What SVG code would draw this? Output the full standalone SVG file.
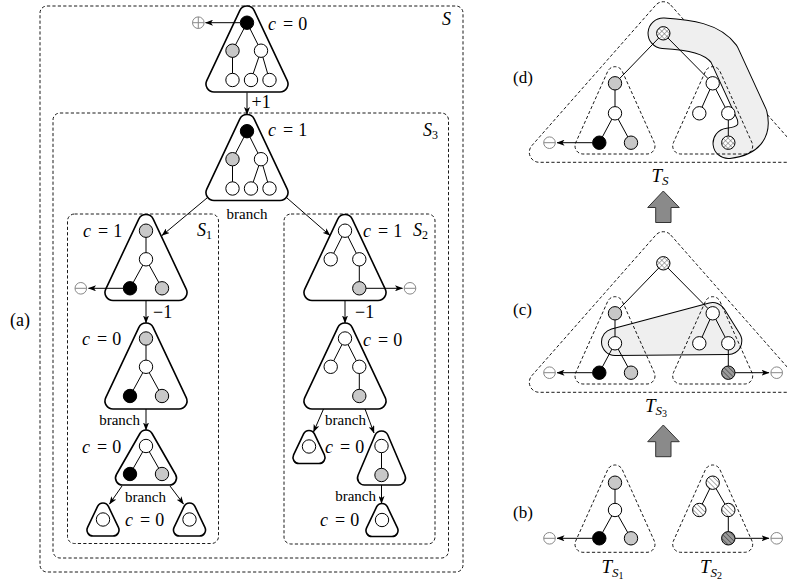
<svg xmlns="http://www.w3.org/2000/svg" width="787" height="579" viewBox="0 0 787 579">
<style>
text{font-family:"Liberation Serif","DejaVu Serif",serif;fill:#000}
.m{font-size:18px}
.i{font-style:italic}
.br{font-size:15px}
.tri{fill:#fff;stroke:#000;stroke-width:1.6}
.dash{fill:none;stroke:#000;stroke-width:0.9;stroke-dasharray:3.2 2.2}
.e{stroke:#000;stroke-width:1;fill:none}
.n{stroke:#000;stroke-width:1}
.w{fill:#fff}.g{fill:#c8c8c8}.b{fill:#000}.x{fill:url(#xh)}.s{fill:url(#st)}.d{fill:url(#sd)}
.arr{stroke:#000;stroke-width:1;fill:none;marker-end:url(#ah)}
.sym{fill:none;stroke:#888;stroke-width:1}
.blk{fill:#8a8a8a;stroke:#333;stroke-width:1}
.bandO{fill:none;stroke:#000;stroke-linecap:round;stroke-linejoin:round}
.bandI{fill:none;stroke:#efefef;stroke-linecap:round;stroke-linejoin:round}
</style>
<defs>
<marker id="ah" viewBox="0 0 8 6" markerWidth="8" markerHeight="6" refX="7.5" refY="3" orient="auto" markerUnits="userSpaceOnUse"><path d="M0,0 L8,3 L0,6 L2,3 Z" fill="#000"/></marker>
<pattern id="xh" width="3.6" height="3.6" patternUnits="userSpaceOnUse" patternTransform="rotate(45)"><rect width="3.6" height="3.6" fill="#fff"/><path d="M0,0H3.6M0,0V3.6" stroke="#444" stroke-width="0.8"/></pattern>
<pattern id="st" width="3.4" height="3.4" patternUnits="userSpaceOnUse" patternTransform="rotate(-45)"><rect width="3.4" height="3.4" fill="#fff"/><path d="M0,0V3.4" stroke="#777" stroke-width="1.2"/></pattern>
<pattern id="sd" width="3.4" height="3.4" patternUnits="userSpaceOnUse" patternTransform="rotate(-45)"><rect width="3.4" height="3.4" fill="#9a9a9a"/><path d="M0,0V3.4" stroke="#333" stroke-width="1.1"/></pattern>
<path id="big" d="M7.24,4.59 L40.24,74.59 A8,8 0 0 1 33,86 L-33,86 A8,8 0 0 1 -40.24,74.59 L-7.24,4.59 A8,8 0 0 1 7.24,4.59 Z"/>
<path id="mid2" d="M6.07,3.52 L29.57,44.52 A7,7 0 0 1 23.5,55 L-23.5,55 A7,7 0 0 1 -29.57,44.52 L-6.07,3.52 A7,7 0 0 1 6.07,3.52 Z"/>
<path id="mid1" d="M6.44,4.26 L23.44,44.26 A7,7 0 0 1 17,54 L-17,54 A7,7 0 0 1 -23.44,44.26 L-6.44,4.26 A7,7 0 0 1 6.44,4.26 Z"/>
<path id="sm" d="M5.42,3.42 L15.42,24.42 A6,6 0 0 1 10,33 L-10,33 A6,6 0 0 1 -15.42,24.42 L-5.42,3.42 A6,6 0 0 1 5.42,3.42 Z"/>
<path id="sub" d="M7.3,4.72 L39.3,76.02 A8,8 0 0 1 32,87.3 L-32,87.3 A8,8 0 0 1 -39.3,76.02 L-7.3,4.72 A8,8 0 0 1 7.3,4.72 Z"/>
<path id="bigd" d="M7.5,3.39 L131.5,143.99 A10,10 0 0 1 124,160.6 L-124,160.6 A10,10 0 0 1 -131.5,143.99 L-7.5,3.39 A10,10 0 0 1 7.5,3.39 Z"/>
<g id="om"><circle r="5.8"/><path d="M-5.8,0H5.8"/></g>
<g id="op"><circle r="5.8"/><path d="M-5.8,0H5.8M0,-5.8V5.8"/></g>
</defs>

<!-- (a) panel boxes -->
<g id="boxS">
<rect class="dash" x="40" y="6" width="423" height="566" rx="7"/>
<text class="m i" x="442" y="25" font-size="19">S</text>
</g>
<g id="boxS3">
<rect class="dash" x="53" y="113" width="395.5" height="445" rx="7"/>
<text class="m" x="423" y="136"><tspan class="i">S</tspan><tspan font-size="12" dy="3">3</tspan></text>
</g>
<g id="boxS1">
<rect class="dash" x="67.5" y="214" width="151" height="329.5" rx="7"/>
<text class="m" x="197" y="236"><tspan class="i">S</tspan><tspan font-size="12" dy="3">1</tspan></text>
</g>
<g id="boxS2">
<rect class="dash" x="284" y="214" width="151" height="330" rx="7"/>
<text class="m" x="413" y="236"><tspan class="i">S</tspan><tspan font-size="12" dy="3">2</tspan></text>
</g>
<text x="10" y="326" font-size="18">(a)</text>

<g id="t0">
<use href="#big" x="247" y="6" class="tri"/>
<path class="e" d="M247,22.7L232.5,50.7M247,22.7L261,50.7M232.5,50.7V80M261,50.7L251,80M261,50.7L269.5,80"/>
<circle class="n b" cx="247" cy="22.7" r="6.7"/>
<circle class="n g" cx="232.5" cy="50.7" r="6.7"/>
<circle class="n w" cx="261" cy="50.7" r="6.7"/>
<circle class="n w" cx="232.5" cy="80" r="6.7"/>
<circle class="n w" cx="251" cy="80" r="6.7"/>
<circle class="n w" cx="269.5" cy="80" r="6.7"/>
<text class="m" x="268" y="30"><tspan class="i">c</tspan><tspan dx="7">=</tspan><tspan dx="5">0</tspan></text>
</g>

<g id="t1">
<use href="#big" x="247" y="114.5" class="tri"/>
<path class="e" d="M247,131.2L232.5,159.2M247,131.2L261,159.2M232.5,159.2V188.5M261,159.2L251,188.5M261,159.2L269.5,188.5"/>
<circle class="n b" cx="247" cy="131.2" r="6.7"/>
<circle class="n g" cx="232.5" cy="159.2" r="6.7"/>
<circle class="n w" cx="261" cy="159.2" r="6.7"/>
<circle class="n w" cx="232.5" cy="188.5" r="6.7"/>
<circle class="n w" cx="251" cy="188.5" r="6.7"/>
<circle class="n w" cx="269.5" cy="188.5" r="6.7"/>
<text class="m" x="268" y="136"><tspan class="i">c</tspan><tspan dx="7">=</tspan><tspan dx="5">1</tspan></text>
</g>

<g id="ta">
<use href="#big" x="146" y="214.5" class="tri"/>
<path class="e" d="M146,230.7V259.3M146,259.3L130,288.3M146,259.3L162,288.3"/>
<circle class="n g" cx="146" cy="230.7" r="6.7"/>
<circle class="n w" cx="146" cy="259.3" r="6.7"/>
<circle class="n b" cx="130" cy="288.3" r="6.7"/>
<circle class="n g" cx="162" cy="288.3" r="6.7"/>
<text class="m" x="83" y="236.5"><tspan class="i">c</tspan><tspan dx="7">=</tspan><tspan dx="5">1</tspan></text>
</g>

<g id="tb">
<use href="#big" x="146" y="323" class="tri"/>
<path class="e" d="M146,338.5V366.8M146,366.8L130,396M146,366.8L162,396"/>
<circle class="n g" cx="146" cy="338.5" r="6.7"/>
<circle class="n w" cx="146" cy="366.8" r="6.7"/>
<circle class="n b" cx="130" cy="396" r="6.7"/>
<circle class="n g" cx="162" cy="396" r="6.7"/>
<text class="m" x="82" y="345"><tspan class="i">c</tspan><tspan dx="7">=</tspan><tspan dx="5">0</tspan></text>
</g>

<g id="tc">
<use href="#mid2" x="146" y="430" class="tri"/>
<path class="e" d="M146,446L130,474M146,446L162,474"/>
<circle class="n w" cx="146" cy="446" r="6.7"/>
<circle class="n b" cx="130" cy="474" r="6.7"/>
<circle class="n g" cx="162" cy="474" r="6.7"/>
<text class="m" x="82" y="452.5"><tspan class="i">c</tspan><tspan dx="7">=</tspan><tspan dx="5">0</tspan></text>
</g>

<g id="s1l">
<use href="#sm" x="103" y="503" class="tri"/>
<circle class="n w" cx="103" cy="519.5" r="6.7"/>
</g>
<g id="s1r">
<use href="#sm" x="189.5" y="503" class="tri"/>
<circle class="n w" cx="189.5" cy="519.5" r="6.7"/>
</g>
<text class="m" x="125" y="526"><tspan class="i">c</tspan><tspan dx="7">=</tspan><tspan dx="5">0</tspan></text>

<g id="td">
<use href="#big" x="345" y="214.5" class="tri"/>
<path class="e" d="M345,230.7L330.7,259.3M345,230.7L359.3,259.3M359.3,259.3V288.3"/>
<circle class="n w" cx="345" cy="230.7" r="6.7"/>
<circle class="n w" cx="330.7" cy="259.3" r="6.7"/>
<circle class="n w" cx="359.3" cy="259.3" r="6.7"/>
<circle class="n g" cx="359.3" cy="288.3" r="6.7"/>
<text class="m" x="363" y="236.5"><tspan class="i">c</tspan><tspan dx="7">=</tspan><tspan dx="5">1</tspan></text>
</g>

<g id="te">
<use href="#big" x="345" y="323" class="tri"/>
<path class="e" d="M345,338.5L330.7,366.8M345,338.5L359.3,366.8M359.3,366.8V396"/>
<circle class="n w" cx="345" cy="338.5" r="6.7"/>
<circle class="n w" cx="330.7" cy="366.8" r="6.7"/>
<circle class="n w" cx="359.3" cy="366.8" r="6.7"/>
<circle class="n g" cx="359.3" cy="396" r="6.7"/>
<text class="m" x="363" y="345.5"><tspan class="i">c</tspan><tspan dx="7">=</tspan><tspan dx="5">0</tspan></text>
</g>

<g id="s2l">
<use href="#sm" x="309" y="430.5" class="tri"/>
<circle class="n w" cx="309" cy="446.5" r="6.7"/>
</g>
<g id="tf">
<use href="#mid1" x="381.5" y="431" class="tri"/>
<path class="e" d="M381.5,446V475"/>
<circle class="n w" cx="381.5" cy="446" r="6.7"/>
<circle class="n g" cx="381.5" cy="475" r="6.7"/>
</g>
<text class="m" x="325" y="453"><tspan class="i">c</tspan><tspan dx="7">=</tspan><tspan dx="5">0</tspan></text>
<g id="s2b">
<use href="#sm" x="382" y="503.5" class="tri"/>
<circle class="n w" cx="382" cy="520" r="6.7"/>
</g>
<text class="m" x="320" y="526"><tspan class="i">c</tspan><tspan dx="7">=</tspan><tspan dx="5">0</tspan></text>

<!-- (d) -->
<g id="panel-d">
<use href="#bigd" x="663.3" y="1.7" class="dash"/>
<path class="bandO" stroke-width="31.5" d="M663.3,33.3 C690,35 712,38 724,54 L752,115 Q758,140 728.3,143.3"/>
<path class="bandI" stroke-width="29.5" d="M663.3,33.3 C690,35 712,38 724,54 L752,115 Q758,140 728.3,143.3"/>
<use href="#sub" x="615" y="66.7" class="dash"/>
<use href="#sub" x="712.7" y="66.7" class="dash"/>
<path class="e" d="M663.3,33.3L615,83.3M663.3,33.3L712.7,83.3M615,83.3V113.3M615,113.3L599.3,142.7M615,113.3L631,142.7M712.7,83.3L699.3,113.3M712.7,83.3L728.3,113.3M728.3,113.3V142.7"/>
<circle class="n x" cx="663.3" cy="33.3" r="6.7"/>
<circle class="n g" cx="615" cy="83.3" r="6.7"/>
<circle class="n w" cx="615" cy="113.3" r="6.7"/>
<circle class="n b" cx="599.3" cy="142.7" r="6.7"/>
<circle class="n g" cx="631" cy="142.7" r="6.7"/>
<circle class="n w" cx="712.7" cy="83.3" r="6.7"/>
<circle class="n w" cx="699.3" cy="113.3" r="6.7"/>
<circle class="n w" cx="728.3" cy="113.3" r="6.7"/>
<circle class="n x" cx="728.3" cy="142.7" r="6.7"/>
<text x="513" y="83" font-size="17">(d)</text>
<text x="651.5" y="181.5" font-size="19"><tspan class="i">T</tspan><tspan class="i" font-size="13" dy="3">S</tspan></text>
</g>

<!-- (c) -->
<g id="panel-c">
<use href="#bigd" x="663.3" y="231.7" class="dash"/>
<path d="M615,342L712.7,316L728.3,341Z" fill="#000" stroke="#000" stroke-width="28" stroke-linejoin="round"/>
<path d="M615,342L712.7,316L728.3,341Z" fill="#efefef" stroke="#efefef" stroke-width="26" stroke-linejoin="round"/>
<use href="#sub" x="615" y="296.7" class="dash"/>
<use href="#sub" x="712.7" y="296.7" class="dash"/>
<path class="e" d="M663.3,263.3L615,313.3M663.3,263.3L712.7,313.3M615,313.3V343.3M615,343.3L599.3,372.7M615,343.3L631,372.7M712.7,313.3L699.3,343.3M712.7,313.3L728.3,343.3M728.3,343.3V372.7"/>
<circle class="n x" cx="663.3" cy="263.3" r="6.7"/>
<circle class="n g" cx="615" cy="313.3" r="6.7"/>
<circle class="n w" cx="615" cy="343.3" r="6.7"/>
<circle class="n b" cx="599.3" cy="372.7" r="6.7"/>
<circle class="n g" cx="631" cy="372.7" r="6.7"/>
<circle class="n w" cx="712.7" cy="313.3" r="6.7"/>
<circle class="n w" cx="699.3" cy="343.3" r="6.7"/>
<circle class="n w" cx="728.3" cy="343.3" r="6.7"/>
<circle class="n d" cx="728.3" cy="372.7" r="6.7"/>
<text x="513" y="315" font-size="17">(c)</text>
<text x="645" y="412" font-size="19"><tspan class="i">T</tspan><tspan class="i" font-size="13" dy="3">S</tspan><tspan font-size="10" dy="2">3</tspan></text>
</g>

<!-- (b) -->
<g id="panel-b">
<use href="#sub" x="615" y="465" class="dash"/>
<use href="#sub" x="712.7" y="465" class="dash"/>
<path class="e" d="M615,482.7V510M615,510L599.3,538.3M615,510L631,538.3M712.7,482.7L699.3,510M712.7,482.7L728.3,510M728.3,510V538.3"/>
<circle class="n g" cx="615" cy="482.7" r="6.7"/>
<circle class="n w" cx="615" cy="510" r="6.7"/>
<circle class="n b" cx="599.3" cy="538.3" r="6.7"/>
<circle class="n g" cx="631" cy="538.3" r="6.7"/>
<circle class="n s" cx="712.7" cy="482.7" r="6.7"/>
<circle class="n s" cx="699.3" cy="510" r="6.7"/>
<circle class="n s" cx="728.3" cy="510" r="6.7"/>
<circle class="n d" cx="728.3" cy="538.3" r="6.7"/>
<text x="513" y="518" font-size="17">(b)</text>
<text x="601.5" y="573" font-size="19"><tspan class="i">T</tspan><tspan class="i" font-size="13" dy="3.5">S</tspan><tspan font-size="10" dy="2">1</tspan></text>
<text x="700" y="573" font-size="19"><tspan class="i">T</tspan><tspan class="i" font-size="13" dy="3.5">S</tspan><tspan font-size="10" dy="2">2</tspan></text>
</g>

<g id="bigarrows">
<polygon class="blk" points="663.3,191 679.3,207.5 671,207.5 671,222.5 655.7,222.5 655.7,207.5 647.7,207.5"/>
<polygon class="blk" points="663.3,425 679.3,441.7 671,441.7 671,456.7 655.7,456.7 655.7,441.7 647.7,441.7"/>
</g>

<g id="connectors">
<line class="arr" x1="240" y1="22.7" x2="205.5" y2="22.7"/>
<use href="#op" x="198.3" y="22.7" class="sym"/>
<line class="arr" x1="247" y1="92.5" x2="247" y2="114.5"/>
<text class="m" x="251.5" y="108">+1</text>
<line class="arr" x1="207" y1="198" x2="162" y2="235.5"/>
<line class="arr" x1="287" y1="198" x2="330" y2="235.5"/>
<text class="br" x="247" y="219" text-anchor="middle">branch</text>
<line class="arr" x1="123.3" y1="288.3" x2="88.5" y2="288.3"/>
<use href="#om" x="80.8" y="288.3" class="sym"/>
<line class="arr" x1="146" y1="301" x2="146" y2="323"/>
<text class="m" x="153" y="318">−1</text>
<line class="arr" x1="146" y1="409" x2="146" y2="430"/>
<text class="br" x="140" y="425" text-anchor="end">branch</text>
<line class="arr" x1="122" y1="486" x2="109.5" y2="504"/>
<line class="arr" x1="170" y1="486" x2="183.5" y2="504"/>
<text class="br" x="145.5" y="502" text-anchor="middle">branch</text>
<line class="arr" x1="366" y1="288.3" x2="402.5" y2="288.3"/>
<use href="#om" x="410" y="288.3" class="sym"/>
<line class="arr" x1="345" y1="301" x2="345" y2="323"/>
<text class="m" x="355" y="318">−1</text>
<line class="arr" x1="323.5" y1="409" x2="313.5" y2="432"/>
<line class="arr" x1="365" y1="409" x2="374" y2="433"/>
<text class="br" x="345.5" y="425" text-anchor="middle">branch</text>
<line class="arr" x1="381.5" y1="485" x2="381.5" y2="503.5"/>
<text class="br" x="376" y="500.5" text-anchor="end">branch</text>
<line class="arr" x1="592.6" y1="142.7" x2="557" y2="142.7"/>
<use href="#om" x="549.5" y="142.7" class="sym"/>
<line class="arr" x1="592.6" y1="372.7" x2="557" y2="372.7"/>
<use href="#om" x="549.5" y="372.7" class="sym"/>
<line class="arr" x1="735" y1="372.7" x2="769" y2="372.7"/>
<use href="#om" x="776.7" y="372.7" class="sym"/>
<line class="arr" x1="592.6" y1="538.3" x2="557" y2="538.3"/>
<use href="#om" x="549.5" y="538.3" class="sym"/>
<line class="arr" x1="735" y1="538.3" x2="769" y2="538.3"/>
<use href="#om" x="776.7" y="538.3" class="sym"/>
</g>
</svg>
